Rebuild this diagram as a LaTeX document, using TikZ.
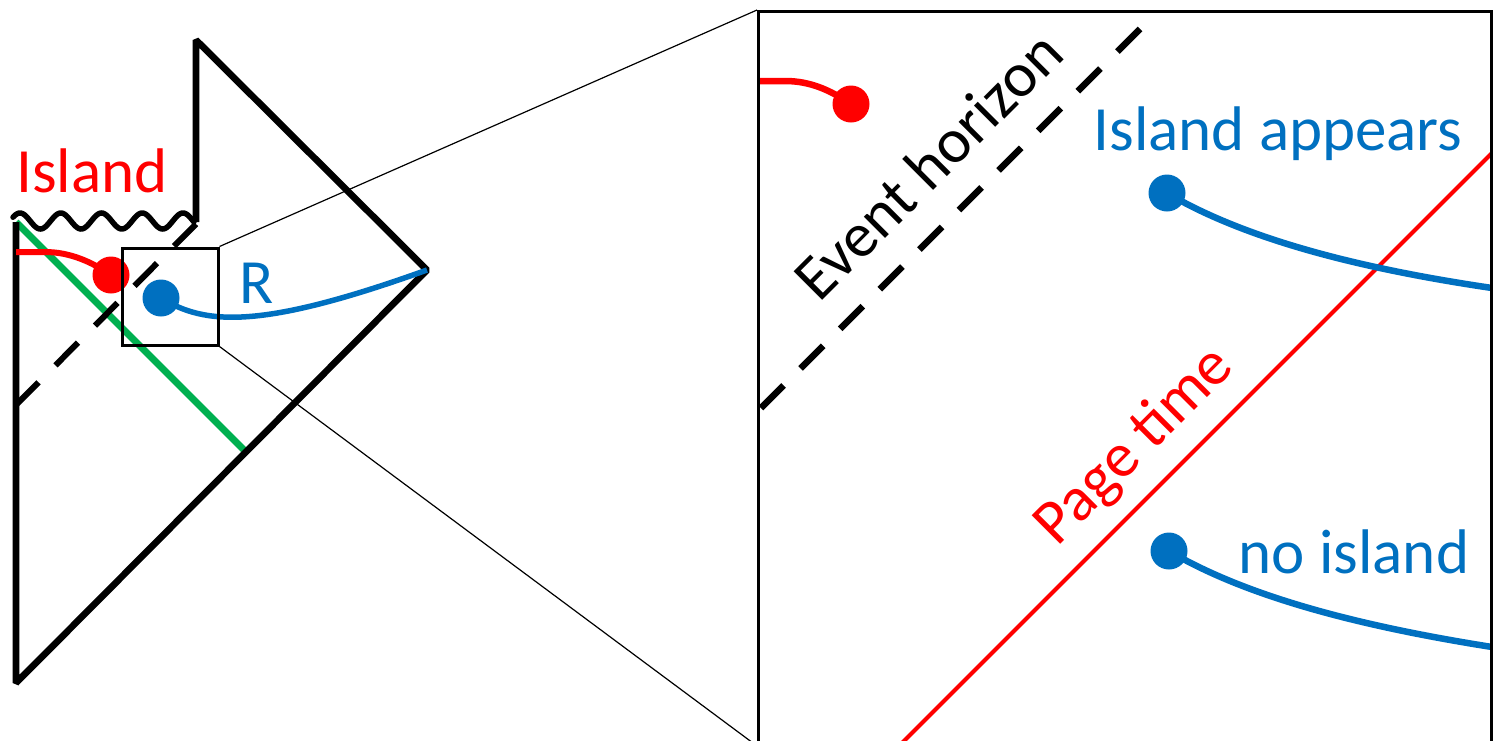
\documentclass[tikz,border=0pt]{standalone}
\usepackage{fontspec}
\setmainfont{Carlito}
\definecolor{myred}{RGB}{255,0,0}
\definecolor{myblue}{RGB}{0,112,192}
\definecolor{mygreen}{RGB}{0,176,80}
\begin{document}
\begin{tikzpicture}[x=1pt,y=-1pt,
  bh/.style={line width=6.7pt, black, line join=bevel},
  dot/.style={circle, fill, inner sep=0pt, minimum size=37pt},
  lbl/.style={inner sep=0pt, font=\fontsize{63}{70}\selectfont},
  thinc/.style={line width=1.2pt, black}]
\useasboundingbox (0,0) rectangle (1493,740);
\clip (0,0) rectangle (1493,740);
% left Penrose-like diagram
\coordinate (tl) at (16,222);
\coordinate (bl) at (16,683);
\coordinate (rc) at (427,270);
\coordinate (tp) at (196,40);
\coordinate (vb) at (196,222);
\coordinate (gend) at (246,452);
\draw[line width=7pt, mygreen] (tl) -- (gend);
\draw[bh] (vb) -- (tp) -- (rc) -- (bl) -- (tl);
\draw[line width=5.5pt, black, line cap=round] plot[domain=13:194, samples=140, smooth] (\x, {221-8*cos(8.8344*(\x-20))});
\coordinate (ehb) at (16,405);
\coordinate (eht) at (196,224);
\draw[line width=6pt, dash pattern=on 32pt off 24pt] (ehb) -- (eht);
% red curve and dot
\node[dot, myred] (rdot) at (111,275) {};
\coordinate (rstart) at (16,252);
\draw[line width=6pt, myred] (rstart) -- (45,252) .. controls (70,252) and (92,262) .. (rdot.center);
% blue curve and dot
\node[dot, myblue] (bdot) at (161,298) {};
\draw[line width=5.5pt, myblue] (bdot.center) .. controls (205,325) and (260,330) .. (rc);
% zoom box
\node[draw, line width=3pt, inner sep=0pt, minimum width=96pt, minimum height=97pt] (zbox) at (170,296.5) {};
\node[draw, line width=3pt, inner sep=0pt, minimum width=733pt, minimum height=733pt, anchor=north west] (big) at (757,10) {};
\draw[thinc] (zbox.north east) -- (big.north west);
\draw[thinc] (zbox.south east) -- (big.south west);
% labels left
\node[lbl, myred, anchor=base] (tisl) at (92,192) {Island};
\node[lbl, myblue, anchor=base] (tR) at (257,303) {R};
% contents of big box
\begin{scope}
\clip (757,10) rectangle (1490,743);
\coordinate (eh2t) at (1140,29);
\coordinate (eh2b) at (757,412);
\draw[line width=6.5pt, dash pattern=on 32pt off 24pt] (eh2t) -- (eh2b);
\coordinate (pt1) at (1492,153);
\coordinate (pt2) at (900,745);
\draw[line width=4pt, myred] (pt1) -- (pt2);
\node[dot, myred] (rdot2) at (851,104) {};
\coordinate (r2s) at (757,81);
\draw[line width=6.5pt, myred] (r2s) -- (785,81) .. controls (810,81) and (830,90) .. (rdot2.center);
\node[dot, myblue] (b1) at (1167,193) {};
\coordinate (b1e) at (1492,288);
\draw[line width=6.5pt, myblue] (b1.center) .. controls (1250,242) and (1370,270) .. (b1e);
\node[dot, myblue] (b2) at (1169,551) {};
\coordinate (b2e) at (1492,647);
\draw[line width=6.5pt, myblue] (b2.center) .. controls (1252,600) and (1372,628) .. (b2e);
\end{scope}
\node[draw, line width=3pt, inner sep=0pt, minimum width=733pt, minimum height=733pt, anchor=north west] at (757,10) {};
\node[lbl, myblue, anchor=base] (tia) at (1278,150) {Island appears};
\node[lbl, myblue, anchor=base] (tni) at (1354,573) {no island};
\node[lbl, black, rotate=45] (teh) at (928,165) {Event horizon};
\node[lbl, myred, rotate=45] (tpt) at (1135,447) {Page time};
\end{tikzpicture}
\end{document}
